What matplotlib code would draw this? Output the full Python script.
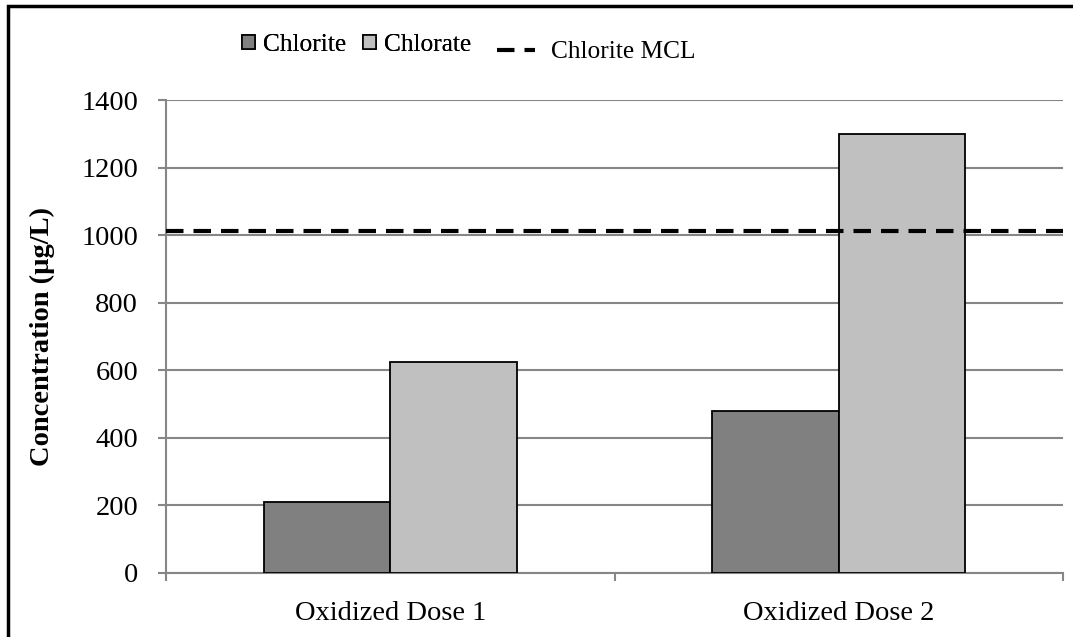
import matplotlib
matplotlib.use('Agg')
import matplotlib.pyplot as plt
import numpy as np
from matplotlib.patches import Patch, Rectangle
from matplotlib.lines import Line2D

plt.rcParams['font.family'] = ['Liberation Serif', 'DejaVu Serif']

categories = ['Oxidized Dose 1', 'Oxidized Dose 2']
chlorite = [210, 480]
chlorate = [625, 1300]
mcl = 1012
yticks = [0, 200, 400, 600, 800, 1000, 1200, 1400]

grid_c = '#868686'
fs = 20.5
lfs = 18.3

fig = plt.figure(figsize=(10.73, 6.37), dpi=100)
ax = fig.add_axes([0.1547, 0.1005, 0.836, 0.7425])

x = np.arange(len(categories))
w = 0.282
ax.bar(x - w / 2, chlorite, w, color='#808080', edgecolor='black', linewidth=1.3, zorder=3)
ax.bar(x + w / 2, chlorate, w, color='#c0c0c0', edgecolor='black', linewidth=1.3, zorder=3)
ax.axhline(mcl, color='black', linewidth=3, dashes=(4.2, 2.4), zorder=4)

ax.set_xlim(-0.5, len(categories) - 0.5)
ax.set_ylim(0, 1400)
ax.set_yticks(yticks)
ax.set_yticklabels([str(v) for v in yticks], fontsize=fs)
ax.yaxis.grid(True, color=grid_c, linewidth=1.5, zorder=0)
ax.set_axisbelow(True)

ax.set_xticks(x)
ax.set_xticklabels(categories, fontsize=fs)
ax.tick_params(axis='x', which='major', length=0, pad=20)
ax.set_xticks(np.arange(-0.5, len(categories)), minor=True)
ax.tick_params(axis='x', which='minor', length=6, width=1.5, color=grid_c, direction='out')
ax.tick_params(axis='y', length=6, width=1.5, color=grid_c, direction='out', pad=14)

for s in ['top', 'right']:
    ax.spines[s].set_visible(False)
for s in ['left', 'bottom']:
    ax.spines[s].set_color(grid_c)
    ax.spines[s].set_linewidth(1.5)

ax.set_ylabel('Concentration (µg/L)', fontsize=fs, fontweight='bold')
ax.yaxis.set_label_coords((55 - 166) / 897, 0.5)

h1 = [Patch(facecolor='#808080', edgecolor='black', linewidth=1.2),
      Patch(facecolor='#c0c0c0', edgecolor='black', linewidth=1.2)]
leg1 = fig.legend(h1, ['Chlorite', 'Chlorate'], loc='center left',
                  bbox_to_anchor=(242 / 1073, 1 - 45 / 637), ncol=2, frameon=False,
                  fontsize=lfs, handlelength=0.51, handleheight=0.51,
                  handletextpad=0.32, columnspacing=0.65, borderaxespad=0, borderpad=0)
fig.add_artist(leg1)
h2 = [Line2D([0], [0], color='black', linewidth=3, dashes=(4.2, 2.4))]
fig.legend(h2, ['Chlorite MCL'], loc='center left',
           bbox_to_anchor=(497 / 1073, 1 - 52 / 637), frameon=False,
           fontsize=lfs, handlelength=1.48, handletextpad=0.63,
           borderaxespad=0, borderpad=0)

fig.add_artist(Rectangle((8 / 1073, -0.1), 2, 1.1 - 6 / 637, transform=fig.transFigure,
                         fill=False, edgecolor='black', linewidth=2.5))

fig.savefig('out.png', dpi=100)
